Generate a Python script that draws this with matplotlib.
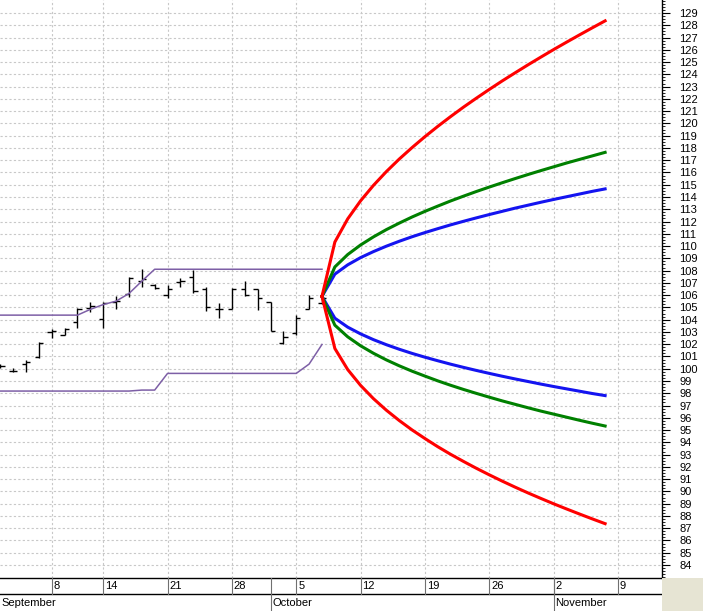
import numpy as np
import matplotlib
matplotlib.use('Agg')
import matplotlib.pyplot as plt
from matplotlib.ticker import MultipleLocator
from matplotlib.patches import Rectangle

plt.rcParams['font.family'] = ['Liberation Sans', 'DejaVu Sans']

# trading-day index (0 = Sep 8)
bar_day = list(range(-4, 22))
bar_open = [100.21, 99.83, 100.35, 100.95, 102.96, 102.79, 103.82, 104.99, 104.02, 105.40,
            106.13, 107.14, 106.83, 106.05, 107.11, 107.46, 106.54, 104.86, 104.91, 106.54,
            106.46, 105.40, 102.06, 102.88, 104.86, 105.32]
bar_high = [100.38, 100.07, 100.73, 102.14, 103.23, 103.33, 104.99, 105.45, 105.45, 105.94,
            107.46, 108.10, 106.87, 106.81, 107.40, 108.06, 106.65, 105.32, 106.62, 107.14,
            106.54, 105.45, 103.06, 104.37, 106.05, 105.86]
bar_low = [100.05, 99.70, 99.70, 100.84, 102.47, 102.74, 103.33, 104.59, 103.28, 104.86,
           105.86, 106.67, 106.46, 105.78, 106.67, 106.21, 104.69, 104.10, 104.86, 105.94,
           104.77, 103.06, 102.03, 102.79, 104.86, 105.24]
bar_close = [100.21, 99.83, 100.51, 102.11, 103.04, 103.23, 104.91, 105.12, 105.32, 105.51,
             107.40, 107.30, 106.62, 106.54, 107.16, 106.32, 105.04, 104.91, 106.48, 106.05,
             105.73, 103.06, 102.60, 104.10, 105.73, 105.78]

band_upper = [104.37] * 7 + [104.84, 105.23, 105.51, 106.13, 107.14] + [108.11] * 14
band_lower = [98.18] * 11 + [98.26, 98.26] + [99.62] * 11 + [100.38, 101.98]

# projection cone
fc_day = list(range(21, 44))
red_up = [105.90, 110.33, 112.22, 113.69, 114.95, 116.07, 117.09, 118.03, 118.92, 119.76,
          120.56, 121.33, 122.06, 122.77, 123.46, 124.12, 124.77, 125.40, 126.02, 126.62,
          127.21, 127.79, 128.36]
red_dn = [105.90, 101.65, 99.93, 98.64, 97.56, 96.62, 95.78, 95.01, 94.31, 93.64,
          93.02, 92.44, 91.88, 91.35, 90.84, 90.35, 89.88, 89.43, 88.99, 88.57,
          88.16, 87.76, 87.37]
green_up = [105.90, 108.30, 109.31, 110.09, 110.75, 111.34, 111.87, 112.37, 112.83, 113.26,
            113.68, 114.07, 114.45, 114.81, 115.16, 115.50, 115.83, 116.15, 116.46, 116.77,
            117.06, 117.35, 117.64]
green_dn = [105.90, 103.55, 102.60, 101.87, 101.26, 100.72, 100.24, 99.80, 99.40, 99.01,
            98.65, 98.31, 97.99, 97.68, 97.38, 97.10, 96.82, 96.55, 96.30, 96.05,
            95.80, 95.56, 95.33]
blue_up = [105.90, 107.71, 108.47, 109.06, 109.55, 109.99, 110.39, 110.76, 111.10, 111.42,
           111.73, 112.02, 112.30, 112.57, 112.83, 113.09, 113.33, 113.57, 113.80, 114.02,
           114.24, 114.46, 114.66]
blue_dn = [105.90, 104.12, 103.39, 102.84, 102.37, 101.96, 101.59, 101.25, 100.94, 100.65,
           100.37, 100.11, 99.86, 99.62, 99.39, 99.17, 98.96, 98.75, 98.55, 98.36,
           98.17, 97.98, 97.81]

week_pos = [0, 4, 9, 14, 19, 24, 29, 34, 39, 44]
week_labels = ['8', '14', '21', '28', '5', '12', '19', '26', '2', '9']
month_pos = [17, 39]
month_labels = ['October', 'November']

W, H = 703, 611
fig = plt.figure(figsize=(W / 100, H / 100), dpi=100)
ax = fig.add_axes([0, 33 / H, 662 / W, 578 / H])
xlim = (-4.02, 47.42)
ax.set_xlim(xlim)
ax.set_ylim(82.94, 130.06)

# grid
ax.set_yticks(range(84, 130))
ax.yaxis.set_minor_locator(MultipleLocator(0.25))
ax.set_xticks(week_pos)
ax.tick_params(axis='x', length=0, labelbottom=False)
ax.grid(True, color='#c8c8c8', lw=0.8, linestyle=(0, (2, 2)))
ax.set_axisbelow(True)

ax.yaxis.tick_right()
ax.tick_params(axis='y', which='major', length=5.8, width=0.8, pad=6.5, labelsize=8, direction='out')
ax.tick_params(axis='y', which='minor', length=2.2, width=0.6, direction='out')
for s in ['left', 'top']:
    ax.spines[s].set_visible(False)
ax.spines['right'].set_linewidth(1)
ax.spines['bottom'].set_linewidth(1)

# OHLC bars
tick = 0.33
ax.vlines(bar_day, bar_low, bar_high, color='black', lw=1)
ax.hlines(bar_open, np.array(bar_day) - tick, bar_day, color='black', lw=1)
ax.hlines(bar_close, bar_day, np.array(bar_day) + tick, color='black', lw=1)

# bands
ax.plot(bar_day, band_upper, color='#7d5fa6', lw=1.1)
ax.plot(bar_day, band_lower, color='#7d5fa6', lw=1.1)

# cone
ax.plot(fc_day, blue_up, color='#1414f0', lw=2.2, zorder=5)
ax.plot(fc_day, blue_dn, color='#1414f0', lw=2.2, zorder=5)
ax.plot(fc_day, green_up, color='#008000', lw=2.2, zorder=6)
ax.plot(fc_day, green_dn, color='#008000', lw=2.2, zorder=6)
ax.plot(fc_day, red_up, color='#ff0000', lw=2.2, zorder=7)
ax.plot(fc_day, red_dn, color='#ff0000', lw=2.2, zorder=7)

# date axis
dax = fig.add_axes([0, 0, 662 / W, 33 / H])
dax.set_xlim(xlim)
dax.set_ylim(0, 33)
dax.axis('off')
dax.axhline(17, color='black', lw=1)
for p, lab in zip(week_pos, week_labels):
    dax.plot([p, p], [17, 33], color='#707070', lw=0.8)
    dax.text(p + 0.15, 25, lab, ha='left', va='center', fontsize=8)
dax.text(xlim[0] + 0.15, 8.5, 'September', ha='left', va='center', fontsize=8)
for p, lab in zip(month_pos, month_labels):
    dax.plot([p, p], [0, 33], color='#707070', lw=0.8)
    dax.text(p + 0.15, 8.5, lab, ha='left', va='center', fontsize=8)

fig.patches.append(Rectangle((662 / W, 0), 41 / W, 33 / H, transform=fig.transFigure,
                             facecolor='#e6e4d3', edgecolor='none'))

plt.savefig('out.png', dpi=100)
